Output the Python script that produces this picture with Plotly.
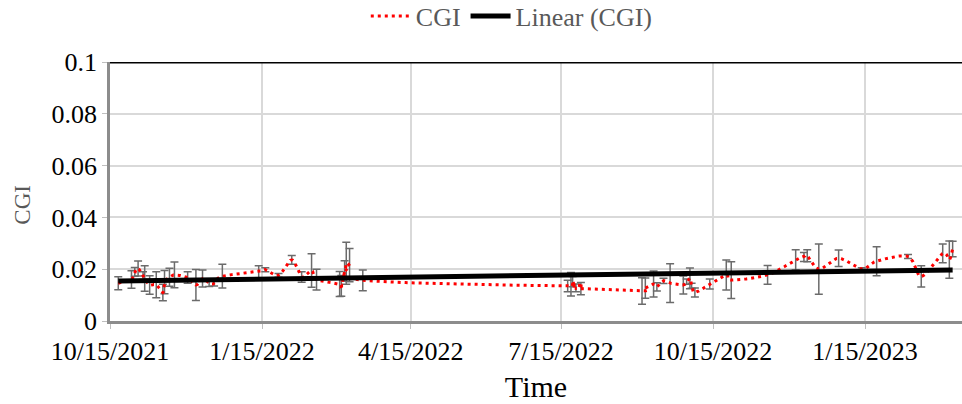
import numpy as np
import pandas as pd
import plotly.graph_objects as go

# ---- data ----
dates = [
    "2021-10-20", "2021-10-28", "2021-10-30", "2021-11-01", "2021-11-04", "2021-11-05",
    "2021-11-08", "2021-11-12", "2021-11-16", "2021-11-17", "2021-11-20", "2021-11-23",
    "2021-12-01", "2021-12-06", "2021-12-10", "2021-12-14", "2021-12-17", "2021-12-22",
    "2022-01-13", "2022-01-17", "2022-01-25", "2022-02-02", "2022-02-08", "2022-02-14",
    "2022-02-17", "2022-03-03", "2022-03-04", "2022-03-06", "2022-03-07", "2022-03-09",
    "2022-03-17",
    "2022-07-19", "2022-07-21", "2022-07-22", "2022-07-24", "2022-07-27",
    "2022-09-02", "2022-09-04", "2022-09-09", "2022-09-11", "2022-09-15", "2022-09-19",
    "2022-09-27", "2022-09-29", "2022-10-01", "2022-10-02", "2022-10-04", "2022-10-13",
    "2022-10-23", "2022-10-26", "2022-11-17", "2022-12-04", "2022-12-09", "2022-12-11",
    "2022-12-18", "2022-12-30", "2023-01-13", "2023-01-22", "2023-02-10", "2023-02-18",
    "2023-03-03", "2023-03-07", "2023-03-09",
]
cgi = [
    0.0146, 0.0160, 0.0190, 0.0203, 0.0175, 0.0164,
    0.0139, 0.0140, 0.0110, 0.0150, 0.0169, 0.0178,
    0.0168, 0.0139, 0.0164, 0.0145, 0.0145, 0.0173,
    0.0190, 0.0198, 0.0176, 0.0236, 0.0170, 0.0195,
    0.0160, 0.0143, 0.0136, 0.0193, 0.0223, 0.0216,
    0.0157,
    0.0135, 0.0142, 0.0152, 0.0128, 0.0125,
    0.0116, 0.0127, 0.0143, 0.0132, 0.0155, 0.0146,
    0.0139, 0.0152, 0.0165, 0.0136, 0.0110, 0.0143,
    0.0178, 0.0158, 0.0178, 0.0236, 0.0247, 0.0252,
    0.0200, 0.0242, 0.0201, 0.0231, 0.0249, 0.0172,
    0.0261, 0.0237, 0.0278,
]
err = [
    0.0025, 0.0034, 0.0017, 0.0029, 0.0015, 0.0049,
    0.0036, 0.0050, 0.0032, 0.0045, 0.0035, 0.0050,
    0.0022, 0.0060, 0.0033, 0.0012, 0.0010, 0.0046,
    0.0023, 0.0008, 0.0007, 0.0017, 0.0020, 0.0065,
    0.0040, 0.0048, 0.0040, 0.0040, 0.0081, 0.0064,
    0.0040,
    0.0022, 0.0045, 0.0020, 0.0015, 0.0024,
    0.0051, 0.0039, 0.0050, 0.0016, 0.0010, 0.0075,
    0.0035, 0.0010, 0.0040, 0.0010, 0.0017, 0.0019,
    0.0058, 0.0071, 0.0036, 0.0039, 0.0017, 0.0023,
    0.0097, 0.0032, 0.0005, 0.0056, 0.0008, 0.0041,
    0.0036, 0.0072, 0.0030,
]
tick_dates = ["2021-10-15", "2022-01-15", "2022-04-15", "2022-07-15", "2022-10-15", "2023-01-15"]
tick_labels = ["10/15/2021", "1/15/2022", "4/15/2022", "7/15/2022", "10/15/2022", "1/15/2023"]
y_ticks = [0, 0.02, 0.04, 0.06, 0.08, 0.1]
y_tick_labels = ["0", "0.02", "0.04", "0.06", "0.08", "0.1"]

t = pd.to_datetime(dates)
t0 = t[0]
days = (t - t0).days.values.astype(float)
vals = np.array(cgi)

# ---- Excel-style smoothed line (cubic Bezier, control points at 1/6) ----
P = np.column_stack([days, vals])
n = len(P)
sx, sy = [], []
s = np.linspace(0.0, 1.0, 24, endpoint=False)[:, None]
for i in range(n - 1):
    p0 = P[max(i - 1, 0)]
    p1 = P[i]
    p2 = P[i + 1]
    p3 = P[min(i + 2, n - 1)]
    c1 = p1 + (p2 - p0) / 6.0
    c2 = p2 - (p3 - p1) / 6.0
    B = ((1 - s) ** 3) * p1 + 3 * ((1 - s) ** 2) * s * c1 + 3 * (1 - s) * (s ** 2) * c2 + (s ** 3) * p2
    sx.extend(B[:, 0])
    sy.extend(B[:, 1])
sx.append(P[-1, 0])
sy.append(P[-1, 1])
smooth_t = t0 + pd.to_timedelta(np.array(sx), unit="D")

# ---- linear trend (least squares, like Excel's trendline) ----
slope, intercept = np.polyfit(days, vals, 1)
trend_x = [t[0], t[-1]]
trend_y = [intercept, intercept + slope * days[-1]]

FONT = "Liberation Serif, Times New Roman, serif"

fig = go.Figure()
# error bars at the data points
fig.add_trace(go.Scatter(
    x=t, y=cgi, mode="markers", showlegend=False, hoverinfo="skip",
    marker=dict(size=1, color="rgba(0,0,0,0)"),
    error_y=dict(type="data", array=err, visible=True, color="#6b6b6b", thickness=1.5, width=4),
))
# smoothed dotted series
fig.add_trace(go.Scatter(
    x=smooth_t, y=sy, mode="lines", name="CGI",
    line=dict(color="#ff0000", width=3, dash="3px,4px"),
))
fig.add_trace(go.Scatter(
    x=trend_x, y=trend_y, mode="lines", name="Linear (CGI)",
    line=dict(color="#000000", width=5),
))

fig.add_shape(type="line", xref="paper", yref="y", x0=0, x1=1, y0=0.1, y1=0.1,
              line=dict(color="#000000", width=3))

fig.add_annotation(text="CGI", xref="paper", yref="paper", x=-0.103, y=0.45,
                   textangle=-90, showarrow=False, xanchor="center", yanchor="middle",
                   font=dict(family=FONT, size=23, color="#595959"))

fig.update_layout(
    width=962, height=404,
    margin=dict(l=110, r=0, t=62, b=83),
    paper_bgcolor="white", plot_bgcolor="white",
    font=dict(family=FONT, size=26, color="#000000"),
    showlegend=True,
    legend=dict(orientation="h", xref="container", yref="container",
                x=0.532, y=0.96, xanchor="center", yanchor="middle",
                font=dict(family=FONT, size=26, color="#595959"),
                itemwidth=40, bgcolor="rgba(0,0,0,0)"),
    xaxis=dict(
        type="date", range=["2021-10-15", "2023-03-14 16:00"],
        tickmode="array", tickvals=tick_dates, ticktext=tick_labels,
        tickfont=dict(family=FONT, size=26, color="#000000"),
        showgrid=True, gridcolor="#d9d9d9", gridwidth=1.5,
        showline=True, linecolor="#8c8c8c", linewidth=2.5,
        ticks="outside", ticklen=5, tickcolor="#bfbfbf",
        title=dict(text="Time", font=dict(family=FONT, size=30, color="#000000"), standoff=12),
        zeroline=False,
    ),
    yaxis=dict(
        range=[0, 0.1], tickmode="array", tickvals=y_ticks, ticktext=y_tick_labels,
        tickfont=dict(family=FONT, size=26, color="#000000"),
        showgrid=True, gridcolor="#d9d9d9", gridwidth=1.5,
        showline=True, linecolor="#8c8c8c", linewidth=2.5,
        ticks="outside", ticklen=5, tickcolor="#bfbfbf",
        zeroline=False,
    ),
)

fig.write_html("out.html")
